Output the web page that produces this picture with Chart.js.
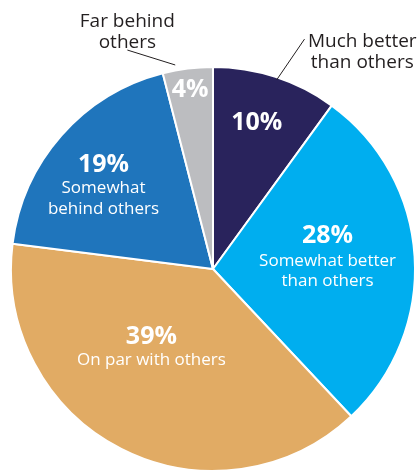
<!DOCTYPE html>
<html>
<head>
<meta charset="utf-8">
<script src="https://cdn.jsdelivr.net/npm/chart.js@4/dist/chart.umd.min.js"></script>
<style>
html,body{margin:0;padding:0;background:#fff;}
#wrap{position:relative;width:420px;height:472px;}
</style>
</head>
<body>
<div id="wrap"><canvas id="c" width="420" height="472"></canvas></div>
<script>
// ---- data ----
const categories = ["Much better than others","Somewhat better than others","On par with others","Somewhat behind others","Far behind others"];
const values = [10, 28, 39, 19, 4];
const nameLines = [["Much better","than others"],["Somewhat better","than others"],["On par with others"],["Somewhat","behind others"],["Far behind","others"]];
const colors = ["#29235C","#00AEEF","#E1AB64","#1F75BC","#BCBDC0"];

// ---- label placement (style, in units of pie radius from centre) ----
const inside = [
  {num:[0.217,-0.724], text:null},
  {num:[0.567,-0.163], text:[0.567,-0.040]},
  {num:[-0.305,0.335], text:[-0.305,0.453]},
  {num:[-0.542,-0.517], text:[-0.542,-0.399]},
  {num:[-0.113,-0.887], text:null}
];
const outside = {
  0:{text:[0.739,-1.128], line:[[0.453,-1.138],[0.315,-0.936]]},
  4:{text:[-0.424,-1.227], line:[[-0.424,-1.084],[-0.187,-1.010]]}
};

const labelPlugin = {
  id:'labels',
  afterDatasetsDraw(chart){
    const ctx = chart.ctx;
    const meta = chart.getDatasetMeta(0);
    const arc0 = meta.data[0];
    const cx = arc0.x, cy = arc0.y, R = arc0.outerRadius;
    const P = p => [cx + p[0]*R, cy + p[1]*R];
    ctx.save();
    ctx.textAlign = 'center';
    ctx.textBaseline = 'middle';
    meta.data.forEach((arc,i)=>{
      const L = inside[i];
      const [nx,ny] = P(L.num);
      ctx.fillStyle = '#ffffff';
      ctx.font = 'bold 25px "Open Sans"';
      ctx.fillText(values[i] + '%', nx, ny);
      if (L.text){
        const [tx,ty] = P(L.text);
        ctx.font = '17px "Open Sans"';
        nameLines[i].forEach((s,k)=>ctx.fillText(s, tx, ty + k*20.5));
      }
      const O = outside[i];
      if (O){
        const [ox,oy] = P(O.text);
        ctx.fillStyle = '#231F20';
        ctx.font = '19px "Open Sans"';
        nameLines[i].forEach((s,k)=>ctx.fillText(s, ox, oy + k*21));
        const a = P(O.line[0]), b = P(O.line[1]);
        ctx.strokeStyle = '#231F20';
        ctx.lineWidth = 1;
        ctx.beginPath(); ctx.moveTo(a[0],a[1]); ctx.lineTo(b[0],b[1]); ctx.stroke();
      }
    });
    ctx.restore();
  }
};

new Chart(document.getElementById('c'), {
  type:'pie',
  data:{labels:categories, datasets:[{data:values, backgroundColor:colors, borderColor:'#ffffff', borderWidth:2}]},
  options:{
    responsive:false, animation:false,
    layout:{padding:{top:66,left:9,right:3,bottom:-2}},
    plugins:{legend:{display:false}, tooltip:{enabled:false}}
  },
  plugins:[labelPlugin]
});
</script>
</body>
</html>
